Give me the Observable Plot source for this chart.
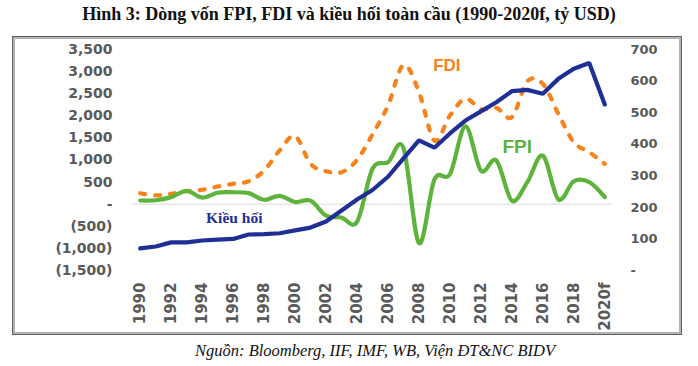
<!DOCTYPE html>
<html><head><meta charset="utf-8">
<script src="https://cdn.jsdelivr.net/npm/d3@7"></script>
<script src="https://cdn.jsdelivr.net/npm/@observablehq/plot@0.6"></script>
<style>
body{margin:0;background:#fff;width:698px;height:366px;position:relative;overflow:hidden}
#title{position:absolute;top:4px;left:0;width:698px;text-align:center;font:bold 18px "Liberation Serif","Times New Roman",serif;color:#111;white-space:nowrap}
#frame{position:absolute;left:12px;top:36px;width:668px;height:297px;border:1px solid #606060;box-shadow:inset 0 0 0 2px #b4b4b4}
#chart{position:absolute;left:0;top:36px}
#caption{position:absolute;top:341px;left:195px;font:italic 16.5px "Liberation Serif","Times New Roman",serif;color:#111;white-space:nowrap}
</style></head><body>
<div id="title">Hình 3: Dòng vốn FPI, FDI và kiều hối toàn cầu (1990-2020f, tỷ USD)</div>
<div id="frame"></div>
<div id="chart"></div>
<div id="caption">Nguồn: Bloomberg, IIF, IMF, WB, Viện ĐT&amp;NC BIDV</div>
<script>
const years = [1990,1991,1992,1993,1994,1995,1996,1997,1998,1999,2000,2001,2002,2003,2004,2005,2006,2007,2008,2009,2010,2011,2012,2013,2014,2015,2016,2017,2018,2019,2020];
const fdi = [249,200,235,294,326,400,461,520,762,1215,1540,913,747,724,1000,1580,2233,3150,2540,1441,2006,2384,2150,2180,1968,2780,2723,2045,1402,1176,914];
const fpi = [84,90,160,300,150,260,270,250,100,190,50,80,-260,-300,-400,800,950,1270,-880,560,680,1760,760,990,80,500,1100,110,520,500,160];
const remit = [70,76,89,89,95,98,100,114,115,118,127,136,155,190,225,255,297,355,412,389,434,475,504,533,568,572,560,607,639,657,526];
const leftTicks = [-1500,-1000,-500,0,500,1000,1500,2000,2500,3000,3500];
const rightTicks = [0,100,200,300,400,500,600,700];
const xTicks = [1990,1992,1994,1996,1998,2000,2002,2004,2006,2008,2010,2012,2014,2016,2018,2020];
const xTickLabels = ["1990","1992","1994","1996","1998","2000","2002","2004","2006","2008","2010","2012","2014","2016","2018","2020f"];

const L0 = -1500, L1 = 3500, R0 = 0, R1 = 700;
const toLeft = v => L0 + (v - R0) / (R1 - R0) * (L1 - L0);
const fromLeft = v => Math.round(R0 + (v - L0) / (L1 - L0) * (R1 - R0));
const comma = d3.format(",");
const fmtL = v => v === 0 ? "-" : v < 0 ? `(${comma(-v)})` : comma(v);
const fmtR = v => { const r = fromLeft(v); return r === 0 ? "-" : String(r); };

const rows = years.map((y, i) => ({year: y, fdi: fdi[i], fpi: fpi[i], remit: remit[i]}));

const ORANGE = "#F7821B", GREEN = "#5DB33C", NAVY = "#1F2F96", GRAY = "#595959";
const axisFont = {fontSize: 14, fontWeight: "bold", fill: GRAY, fontFamily: "DejaVu Sans"};

const chart = Plot.plot({
  width: 698, height: 300,
  marginLeft: 132, marginRight: 86, marginTop: 13, marginBottom: 66,
  x: {domain: [1989.5, 2020.5], axis: null},
  y: {domain: [L0, L1], axis: null},
  style: {background: "transparent", overflow: "visible"},
  marks: [
    Plot.ruleY([0], {stroke: "#d9d9d9", strokeWidth: 1}),
    Plot.axisY(leftTicks, {anchor: "left", label: null, tickSize: 0, tickPadding: 20, tickFormat: fmtL, ...axisFont}),
    Plot.axisY(rightTicks.map(toLeft), {anchor: "right", label: null, tickSize: 0, tickPadding: 18, tickFormat: fmtR, ...axisFont, fontSize: 13}),
    Plot.axisX(xTicks, {anchor: "bottom", label: null, tickSize: 0, tickPadding: 12, tickRotate: -90,
      tickFormat: d => xTickLabels[xTicks.indexOf(d)], ...axisFont, fontSize: 15}),
    Plot.line(rows, {x: "year", y: "fdi", curve: "cardinal", stroke: ORANGE, strokeWidth: 4.2,
      strokeDasharray: "5,10", strokeLinecap: "round"}),
    Plot.line(rows, {x: "year", y: "fpi", curve: "cardinal", stroke: GREEN, strokeWidth: 4.2}),
    Plot.line(rows, {x: "year", y: d => toLeft(d.remit), stroke: NAVY, strokeWidth: 4.2, strokeLinejoin: "miter"}),
    Plot.text(["FDI"], {x: 2009.8, y: 3140, text: d => d, fill: ORANGE, fontSize: 17, fontWeight: "bold", fontFamily: "Liberation Sans"}),
    Plot.text(["FPI"], {x: 2014.35, y: 1290, text: d => d, fill: GREEN, fontSize: 19, fontWeight: "bold", fontFamily: "Liberation Sans"}),
    Plot.text(["Kiều hối"], {x: 1996.07, y: -320, text: d => d, fill: NAVY, fontSize: 15.5, fontWeight: "bold", fontFamily: "Liberation Serif"})
  ]
});
document.getElementById("chart").appendChild(chart);
</script>
</body></html>
